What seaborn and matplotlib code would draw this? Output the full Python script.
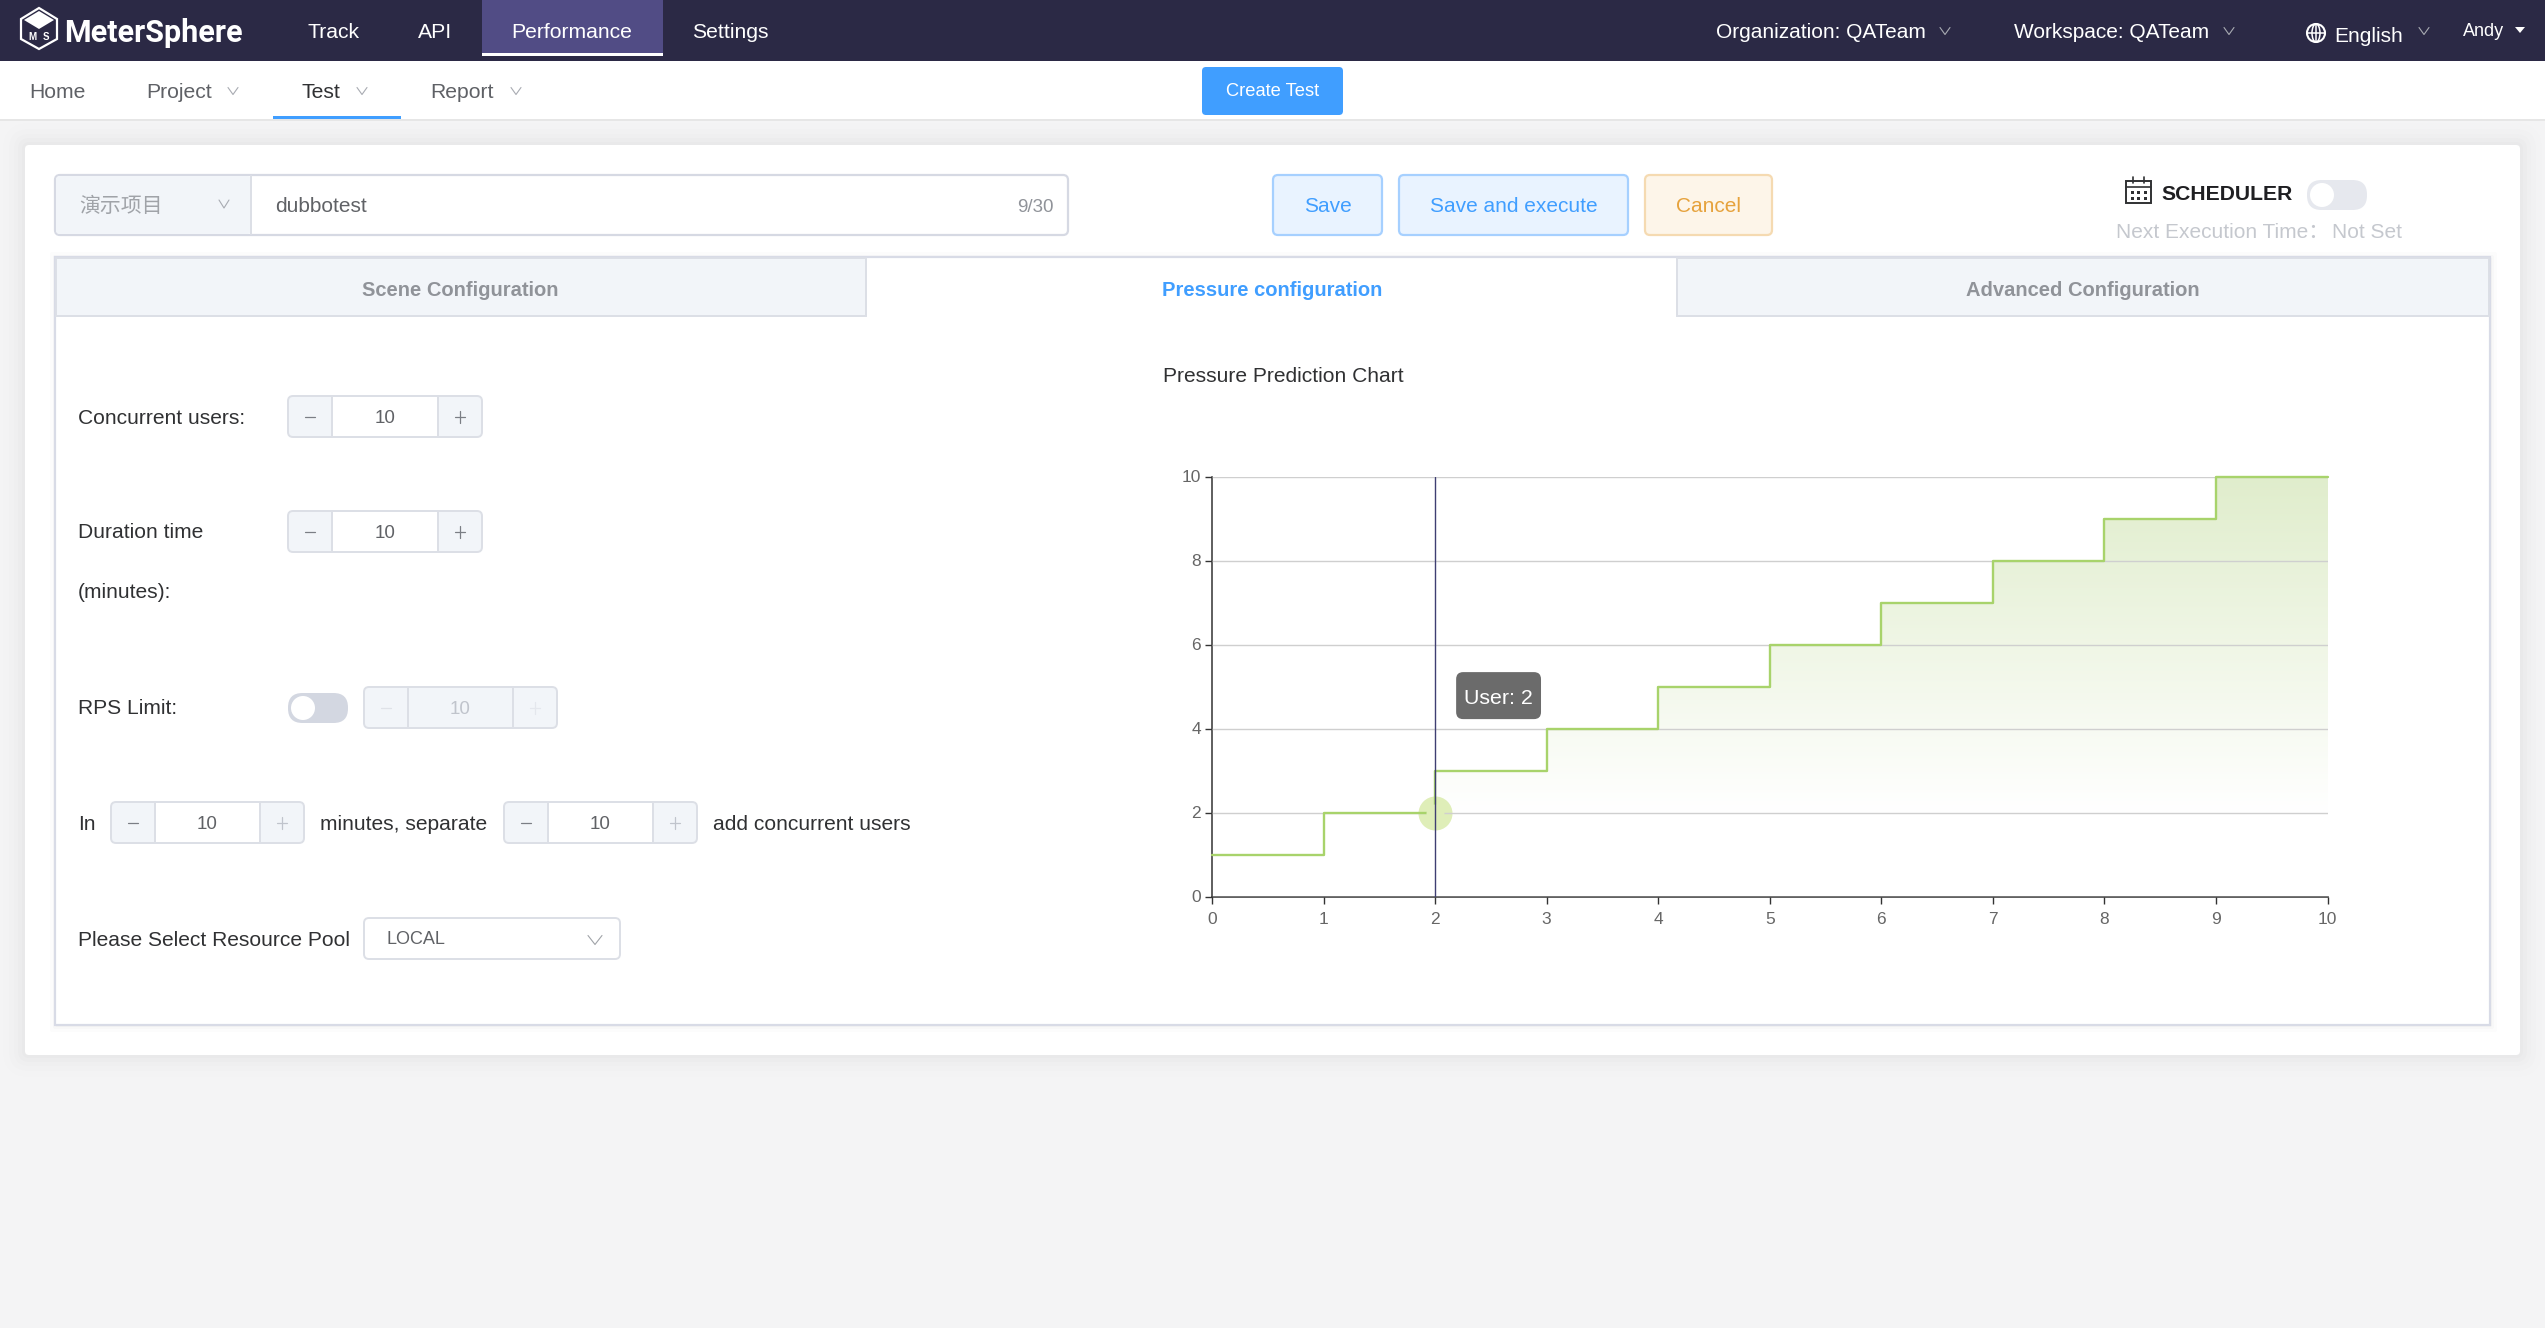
import matplotlib
matplotlib.use('Agg')
import matplotlib.pyplot as plt
from matplotlib.colors import LinearSegmentedColormap
from matplotlib.patches import BoxStyle, Ellipse, FancyBboxPatch, Rectangle, Circle, Polygon
import seaborn as sns
import numpy as np
import pandas as pd

# chart values
minutes = [0, 1, 2, 3, 4, 5, 6, 7, 8, 9, 10]
users = [1, 2, 3, 4, 5, 6, 7, 8, 9, 10, 10]
x_ticks = [0, 1, 2, 3, 4, 5, 6, 7, 8, 9, 10]
y_ticks = [0, 2, 4, 6, 8, 10]
hover_minute = [2]
hover_users = [2]

# page texts
main_menu = ['Track', 'API', 'Performance', 'Settings']
sub_menu = ['Home', 'Project', 'Test', 'Report']
tab_names = ['Scene Configuration', 'Pressure configuration', 'Advanced Configuration']

W, H = 2545, 1328
FONT = ['Liberation Sans', 'Noto Sans CJK SC', 'DejaVu Sans']
GREY_TEXT = '#606266'
BLUE = '#409eff'

sns.set_theme(style='white')
plt.rcParams['font.family'] = FONT
plt.rcParams['axes.unicode_minus'] = False

fig = plt.figure(figsize=(W / 100, H / 100), dpi=100, facecolor='#f4f4f5')
ui = fig.add_axes([0, 0, 1, 1])
ui.set_xlim(0, W)
ui.set_ylim(H, 0)
ui.axis('off')


def box(x0, y0, x1, y1, face, edge='none', r=0, lw=1.4, alpha=None, z=1):
    if r:
        style = f'round,pad=0,rounding_size={r}'
    else:
        style = 'square,pad=0'
    ui.add_patch(FancyBboxPatch((x0, y0), x1 - x0, y1 - y0, boxstyle=style, facecolor=face,
                                edgecolor=edge, linewidth=lw, alpha=alpha, zorder=z))


def flat(x, y, w, h, face, z=1):
    ui.add_patch(Rectangle((x, y), w, h, facecolor=face, edgecolor='none', linewidth=0, zorder=z))


def label(x, y, s, size=15.1, color='#303133', ha='left', weight='normal', family=None, z=5):
    ui.text(x, y, s, fontsize=size, color=color, ha=ha, va='center_baseline', fontweight=weight,
            family=family or FONT, zorder=z)


def chevron(x, y, color='#a8abb2', w=5, h=3.5):
    ui.plot([x - w, x, x + w], [y - h, y + h, y - h], color=color, lw=0.8, zorder=5)


def spinner(x0, y0, x1, y1, value='10', disabled=False, plus_light=False):
    box(x0, y0, x1, y1, '#f2f5f9', '#dcdfe6', r=5, z=3)
    mid = '#ffffff' if not disabled else '#f2f5f9'
    ui.add_patch(Rectangle((x0 + 44, y0), x1 - x0 - 88, y1 - y0, facecolor=mid, edgecolor='#dcdfe6',
                           linewidth=1.4, zorder=4))
    text_col = '#c0c4cc' if disabled else GREY_TEXT
    label((x0 + x1) / 2, (y0 + y1) / 2, value, size=13.5, color=text_col, ha='center')
    cy = (y0 + y1) / 2
    minus_col = '#dfe2e8' if disabled else '#7b7e85'
    plus_col = '#e4e7ed' if disabled else ('#c0c4cc' if plus_light else '#7b7e85')
    ui.plot([x0 + 17, x0 + 27], [cy, cy], color=minus_col, lw=0.9, zorder=5)
    ui.plot([x1 - 27, x1 - 17], [cy, cy], color=plus_col, lw=0.9, zorder=5)
    ui.plot([x1 - 22, x1 - 22], [cy - 6, cy + 6], color=plus_col, lw=0.9, zorder=5)


def toggle(x0, y0, x1, y1, face):
    box(x0, y0, x1, y1, face, 'none', r=(y1 - y0) / 2 - 0.5, z=3)
    ui.add_patch(Circle((x0 + (y1 - y0) / 2, (y0 + y1) / 2), (y1 - y0) / 2 - 3, facecolor='white',
                        edgecolor='none', linewidth=0, zorder=4))


def tooltip_shape(x0, y0, width, height, mutation_size):
    # wider than tall padding, which the plain round style can not do
    return BoxStyle.Round(pad=0, rounding_size=7)(x0 - 8, y0 - 11, width + 16, height + 28, 1)


# top bars
flat(0, 0, W, 61, '#2b2945')
flat(482, 0, 181, 53, '#514c85', z=2)
flat(482, 53, 181, 3, 'white', z=2)
flat(0, 61, W, 58, 'white')
flat(0, 119, W, 2, '#e6e6e6')
flat(273, 116, 128, 3, BLUE, z=2)

# logo
hex_x = [39, 57, 57, 39, 21, 21]
hex_y = [8, 19, 39, 49, 39, 19]
ui.add_patch(Polygon(list(zip(hex_x, hex_y)), closed=True, facecolor='#2b2945', edgecolor='white', lw=1.6, zorder=3))
ui.add_patch(Polygon([(39, 11), (54, 20), (39, 29), (24, 20)], closed=True, facecolor='white', edgecolor='none', zorder=4))
ui.text(32, 37, 'M', fontsize=7, color='white', ha='center', va='center', fontweight='bold', zorder=5)
ui.text(46, 37, 'S', fontsize=7, color='white', ha='center', va='center', fontweight='bold', zorder=5)
label(64, 30, 'MeterSphere', size=22, color='white', weight='bold', family='Roboto')

for name, x in zip(main_menu, [308, 418, 511, 692]):
    label(x, 31, name, size=15.2, color='white')
label(1716, 31, 'Organization: QATeam', size=15, color='white')
chevron(1945, 31)
label(2014, 31, 'Workspace: QATeam', size=15, color='white')
chevron(2229, 31)
label(2334, 34, 'English', size=15, color='white')
chevron(2424, 31)
label(2463, 30, 'Andy', size=13, color='white')
ui.add_patch(Polygon([(2515, 27), (2525, 27), (2520, 33)], closed=True, facecolor='white', edgecolor='none', zorder=5))
# globe
ui.add_patch(Circle((2316, 33), 9, facecolor='none', edgecolor='white', lw=1.5, zorder=5))
ui.add_patch(Ellipse((2316, 33), 8, 18, facecolor='none', edgecolor='white', lw=1.1, zorder=5))
ui.plot([2307, 2325], [33, 33], color='white', lw=1.1, zorder=5)
ui.plot([2316, 2316], [24, 42], color='white', lw=1.1, zorder=5)

for name, x in zip(sub_menu, [29, 146, 301, 430]):
    label(x, 91, name, size=15.2, color='#303133' if name == 'Test' else '#5f6166')
for x in [233, 362, 516]:
    chevron(x, 91)
box(1202, 67, 1343, 115, BLUE, r=4, z=2)
label(1272.5, 90, 'Create Test', size=13.2, color='white', ha='center')

# card with soft shadow
for grow, a in zip([22, 16, 11, 7, 3], [0.005, 0.007, 0.009, 0.011, 0.013]):
    box(25 - grow, 145 - grow, 2520 + grow, 1055 + grow, 'black', r=grow + 4, alpha=a, z=1)
box(25, 145, 2520, 1055, 'white', r=4, z=2)

# name row
box(55, 175, 1068, 235, 'white', '#d6d9e3', r=5, lw=1.6, z=3)
box(56, 176, 251, 234, '#f2f5f9', r=4, z=3)
ui.plot([251, 251], [176, 234], color='#dcdfe6', lw=1.4, zorder=4)
label(79, 204, '演示项目', size=15, color='#a0a3a8')
chevron(224, 204, w=5, h=4)
label(275, 205, 'dubbotest', size=15, color=GREY_TEXT)
label(1054, 205, '9/30', size=13.5, color='#909399', ha='right')

box(1273, 175, 1382, 235, '#e9f3ff', '#a6d0ff', r=5, lw=1.6, z=3)
label(1327.5, 205, 'Save', size=15, color=BLUE, ha='center')
box(1399, 175, 1628, 235, '#e9f3ff', '#a6d0ff', r=5, lw=1.6, z=3)
label(1513.5, 205, 'Save and execute', size=15, color=BLUE, ha='center')
box(1645, 175, 1772, 235, '#fdf5e9', '#f5dab1', r=5, lw=1.6, z=3)
label(1708.5, 205, 'Cancel', size=15, color='#e6a23c', ha='center')

# scheduler
ui.add_patch(Rectangle((2126, 181), 25, 22, facecolor='none', edgecolor='#303133', lw=1.4, zorder=4))
ui.plot([2126, 2151], [187, 187], color='#303133', lw=1.2, zorder=4)
ui.plot([2133, 2133], [177, 183], color='#303133', lw=1.2, zorder=4)
ui.plot([2144, 2144], [177, 183], color='#303133', lw=1.2, zorder=4)
for dy in [192, 198]:
    for dx in [2132, 2138.5, 2145]:
        flat(dx - 1.5, dy - 1.5, 3, 3, '#303133', z=4)
label(2161, 193, 'SCHEDULER', size=15.2, color='#1f1f22', weight='bold')
toggle(2307, 180, 2367, 210, '#e6e8ee')
label(2116, 230, 'Next Execution Time：', size=15, color='#c5c8ce')
label(2332, 230, 'Not Set', size=15, color='#c5c8ce')

# tab pane
for grow, a in zip([7, 4, 2], [0.012, 0.016, 0.02]):
    box(55 - grow + 2, 257 - grow + 2, 2490 + grow, 1025 + grow, 'black', r=2, alpha=a, z=2)
box(55, 257, 2490, 1025, 'white', '#d8dbe6', lw=1.6, z=3)
box(56, 258, 866, 316, '#f2f5f9', '#dcdfe6', lw=1.4, z=3)
box(1677, 258, 2489, 316, '#f2f5f9', '#dcdfe6', lw=1.4, z=3)
for name, x, col in zip(tab_names, [460, 1272, 2083], ['#909399', BLUE, '#909399']):
    label(x, 289, name, size=14.5, color=col, ha='center', weight='bold')

# form
label(78, 416, 'Concurrent users:')
spinner(288, 396, 482, 437)
label(78, 531, 'Duration time')
spinner(288, 511, 482, 552)
label(78, 591, '(minutes):')
label(78, 707, 'RPS Limit:')
toggle(288, 693, 348, 723, '#d3d7e1')
spinner(364, 687, 557, 728, disabled=True)
label(78, 822, 'In')
spinner(111, 802, 304, 843, plus_light=True)
label(320, 822, 'minutes, separate')
spinner(504, 802, 697, 843, plus_light=True)
label(713, 822, 'add concurrent users')
label(78, 938, 'Please Select Resource Pool')
box(364, 918, 620, 959, 'white', '#dcdfe6', r=5, z=3)
label(387, 938, 'LOCAL', size=13, color=GREY_TEXT)
chevron(595, 940, color='#a0a3a8', w=7, h=4.5)
label(1163, 374, 'Pressure Prediction Chart', size=15.1, color='#303133')

# pressure chart
ax = fig.add_axes([1212 / W, 1 - 896.5 / H, (2327.5 - 1212) / W, (896.5 - 476.5) / H], facecolor='none', zorder=10)
df = pd.DataFrame({'minute': minutes, 'user': users})

fill = ax.fill_between(df['minute'], df['user'], 0, step='post', facecolor='none', edgecolor='none')
green_fade = LinearSegmentedColormap.from_list('green_fade', [(0, '#ffffff'), (0.2, '#ffffff'), (1, '#e0edcc')])
shade = np.linspace(1, 0, 256).reshape(-1, 1)
grad = ax.imshow(shade, extent=(0, 10, 0, 10), aspect='auto', cmap=green_fade, vmin=0, vmax=1, zorder=1)
grad.set_clip_path(fill.get_paths()[0], transform=ax.transData)

ax.scatter(hover_minute, hover_users, s=(34 * 0.72) ** 2, color='#dfeeb8', linewidths=0, zorder=2, clip_on=False)
sns.lineplot(data=df, x='minute', y='user', ax=ax, color='#a8d36b', linewidth=1.7, drawstyle='steps-post',
             errorbar=None, sort=False, zorder=4, clip_on=False)
ax.scatter(hover_minute, hover_users, s=(18 * 0.72) ** 2, color='#dfeeb8', linewidths=0, zorder=5, clip_on=False)
ax.axvline(hover_minute[0], color='#3f3f72', lw=1.0, zorder=6)

ax.set_xlim(0, 10)
ax.set_ylim(0, 10)
ax.set_xlabel('')
ax.set_ylabel('')
ax.set_xticks(x_ticks)
ax.set_yticks(y_ticks)
ax.set_axisbelow(False)
ax.grid(axis='y', color='#cfcfcf', lw=1.0, zorder=3)
ax.grid(axis='x', visible=False)
ax.tick_params(axis='both', length=5, width=1.0, color='#333333', labelcolor='#666666', labelsize=12.5,
               bottom=True, left=True)
ax.tick_params(axis='x', pad=6)
ax.tick_params(axis='y', pad=3)
sns.despine(ax=ax)
for side in ['left', 'bottom']:
    ax.spines[side].set_color('#333333')
    ax.spines[side].set_linewidth(1.1)

ax.annotate(f'User: {hover_users[0]}', xy=(hover_minute[0], hover_users[0]), xytext=(45.7, 82),
            textcoords='offset points', ha='center', va='center', fontsize=15.4, color='white', zorder=8,
            bbox=dict(boxstyle=tooltip_shape, facecolor='#6b6b6b', edgecolor='none'))

fig.savefig('out.png', dpi=100, facecolor=fig.get_facecolor())
